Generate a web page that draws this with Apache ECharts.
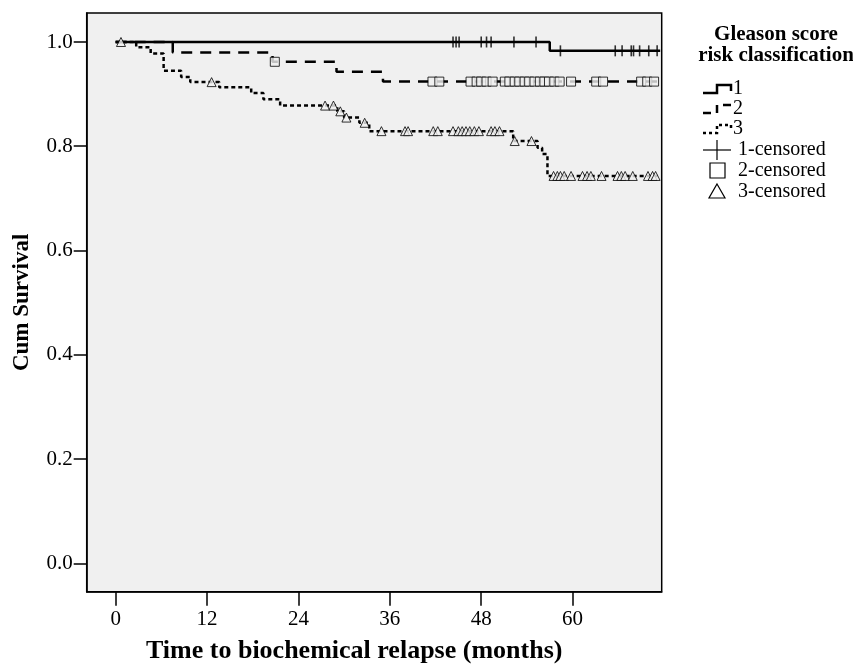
<!DOCTYPE html>
<html>
<head>
<meta charset="utf-8">
<script src="https://cdn.jsdelivr.net/npm/echarts@6/dist/echarts.min.js"></script>
<style>
  html, body { margin: 0; padding: 0; background: #ffffff; }
  #chart { width: 853px; height: 665px; }
</style>
</head>
<body>
<div id="chart"></div>
<script>
// Axis ticks
const xTicks = [0, 12, 24, 36, 48, 60];
const yTicks = [0, 0.2, 0.4, 0.6, 0.8, 1.0];

// Kaplan-Meier steps per Gleason risk group: [month, cumulative survival after the event]
const steps1 = [[0, 1], [57.0, 0.983]];
const steps2 = [[0, 1], [7.5, 0.980], [20.6, 0.962], [29.0, 0.943], [35.1, 0.924]];
const steps3 = [[0, 1], [2.7, 0.990], [4.6, 0.978], [6.3, 0.945], [8.6, 0.933], [9.8, 0.923],
                [13.6, 0.913], [17.8, 0.902], [19.4, 0.890], [21.6, 0.878], [29.1, 0.867],
                [30.0, 0.855], [32.0, 0.845], [33.3, 0.829], [52.2, 0.810], [55.4, 0.797],
                [56.0, 0.785], [56.7, 0.743]];

// Censored follow-up times (months)
const censor1 = [44.3, 44.7, 45.1, 48.0, 48.7, 49.3, 52.3, 55.2,
                 58.4, 65.6, 66.5, 67.7, 68.0, 68.8, 70.0, 71.1];
const censor2 = [20.9, 41.6, 42.5, 46.6, 47.4, 48.0, 48.7, 49.5, 51.1, 51.7, 52.4, 53.0,
                 53.7, 54.3, 55.0, 55.7, 56.3, 56.9, 57.6, 58.3, 59.8, 63.1, 64.0,
                 69.0, 69.8, 70.7];
const censor3 = [0.7, 12.6, 27.5, 28.6, 29.5, 30.3, 32.7,
                 34.9, 38.0, 38.4, 41.7, 42.3, 44.3, 45.0, 45.5, 46.0, 46.5, 47.1, 47.7,
                 49.3, 49.8, 50.4, 52.4, 54.6,
                 57.5, 58.0, 58.4, 58.9, 59.8, 61.3, 61.9, 62.4, 63.8, 65.9, 66.4, 66.9,
                 67.9, 69.9, 70.5, 70.9];
const followEnd = 71.5;

const groupNames = ['1', '2', '3'];
const censorNames = ['1-censored', '2-censored', '3-censored'];

function survAt(steps, t) {
  let v = steps[0][1];
  for (const s of steps) { if (s[0] <= t) v = s[1]; }
  return v;
}
function curve(steps) {
  return steps.concat([[followEnd, steps[steps.length - 1][1]]]);
}
function marks(steps, times) {
  return times.map(t => [t, survAt(steps, t)]);
}

const FONT = 'Liberation Serif';
const BG = '#f0f0f0';
const lineTypes = ['solid', [11, 8], [4, 3]];

const chart = echarts.init(document.getElementById('chart'), null, { renderer: 'canvas' });

const lineSeries = [steps1, steps2, steps3].map((s, i) => ({
  name: groupNames[i],
  type: 'line',
  step: 'end',
  data: curve(s),
  showSymbol: false,
  silent: true,
  z: 2,
  lineStyle: { color: '#000', width: 2.5, type: lineTypes[i], cap: 'butt' }
}));

const censorSeries = [
  {
    name: censorNames[0], type: 'scatter', data: marks(steps1, censor1),
    symbol: 'path://M0,0H1V10H0Z', symbolSize: [1.6, 11], z: 4,
    itemStyle: { color: '#000' }
  },
  {
    name: censorNames[1], type: 'scatter', data: marks(steps2, censor2),
    symbol: 'rect', symbolSize: 9, z: 3,
    itemStyle: { color: BG, borderColor: '#000', borderWidth: 1 }
  },
  {
    name: censorNames[2], type: 'scatter', data: marks(steps3, censor3),
    symbol: 'triangle', symbolSize: 9, z: 3,
    itemStyle: { color: BG, borderColor: '#000', borderWidth: 1 }
  }
];

// Legend drawn as graphics: step glyphs for curves, symbols for censored marks
const lx = 703, lw = 28;
function stepIcon(y, dash) {
  return {
    type: 'polyline',
    shape: { points: [[lx, y + 4], [lx + 14, y + 4], [lx + 14, y - 4], [lx + lw, y - 4], [lx + lw, y + 2]] },
    style: { stroke: '#000', lineWidth: 2.5, fill: null, lineDash: dash }
  };
}
function legendText(x, y, t) {
  return { type: 'text', x: x, y: y, style: { text: t, font: '20px "' + FONT + '"', fill: '#000', verticalAlign: 'middle', align: 'left' } };
}
const rows = [89, 109, 129, 150, 171, 192];
const graphics = [
  { type: 'text', x: 776, y: 35, style: { text: 'Gleason score', font: 'bold 21px "' + FONT + '"', fill: '#000', align: 'center', verticalAlign: 'middle' } },
  { type: 'text', x: 776, y: 56, style: { text: 'risk classification', font: 'bold 21px "' + FONT + '"', fill: '#000', align: 'center', verticalAlign: 'middle' } },
  stepIcon(rows[0], null),
  stepIcon(rows[1], [8, 6]),
  stepIcon(rows[2], [3, 3]),
  legendText(lx + lw + 2, rows[0], groupNames[0]),
  legendText(lx + lw + 2, rows[1], groupNames[1]),
  legendText(lx + lw + 2, rows[2], groupNames[2]),
  { type: 'line', shape: { x1: lx, y1: rows[3], x2: lx + 28, y2: rows[3] }, style: { stroke: '#000', lineWidth: 1.2 } },
  { type: 'line', shape: { x1: lx + 14, y1: rows[3] - 10, x2: lx + 14, y2: rows[3] + 10 }, style: { stroke: '#000', lineWidth: 1.2 } },
  { type: 'rect', shape: { x: lx + 7, y: rows[4] - 8, width: 15, height: 15 }, style: { stroke: '#000', lineWidth: 1.2, fill: '#fff' } },
  { type: 'polygon', shape: { points: [[lx + 14, rows[5] - 8], [lx + 22, rows[5] + 6], [lx + 6, rows[5] + 6]] }, style: { stroke: '#000', lineWidth: 1.2, fill: '#fff' } },
  legendText(lx + 35, rows[3], censorNames[0]),
  legendText(lx + 35, rows[4], censorNames[1]),
  legendText(lx + 35, rows[5], censorNames[2])
];

chart.setOption({
  animation: false,
  backgroundColor: '#ffffff',
  textStyle: { fontFamily: FONT },
  grid: {
    left: 86.7, top: 13, right: 191.3, bottom: 73.3,
    outerBoundsMode: 'none',
    show: true, backgroundColor: BG, borderColor: '#000', borderWidth: 1.5
  },
  xAxis: {
    type: 'value', min: -3.8, max: 71.7,
    name: 'Time to biochemical relapse (months)',
    nameLocation: 'middle', nameGap: 47,
    nameTextStyle: { fontFamily: FONT, fontWeight: 'bold', fontSize: 26, color: '#000', padding: [0, 40, 0, 0] },
    axisLine: { show: true, onZero: false, lineStyle: { color: '#000', width: 1.5 } },
    axisTick: { show: true, inside: false, customValues: xTicks, length: 14, lineStyle: { color: '#000', width: 1.5 } },
    axisLabel: { customValues: xTicks, fontFamily: FONT, fontSize: 21, color: '#000', margin: 17 },
    splitLine: { show: false }
  },
  yAxis: {
    type: 'value', min: -0.0545, max: 1.0556,
    name: 'Cum Survival',
    nameLocation: 'middle', nameGap: 53,
    nameTextStyle: { fontFamily: FONT, fontWeight: 'bold', fontSize: 23, color: '#000' },
    axisLine: { show: true, onZero: false, lineStyle: { color: '#000', width: 1.5 } },
    axisTick: { show: true, inside: false, customValues: yTicks, length: 13, lineStyle: { color: '#000', width: 1.5 } },
    axisLabel: { customValues: yTicks, formatter: v => v.toFixed(1), fontFamily: FONT, fontSize: 21, color: '#000', margin: 14 },
    splitLine: { show: false }
  },
  graphic: graphics,
  series: lineSeries.concat(censorSeries)
});
</script>
</body>
</html>
